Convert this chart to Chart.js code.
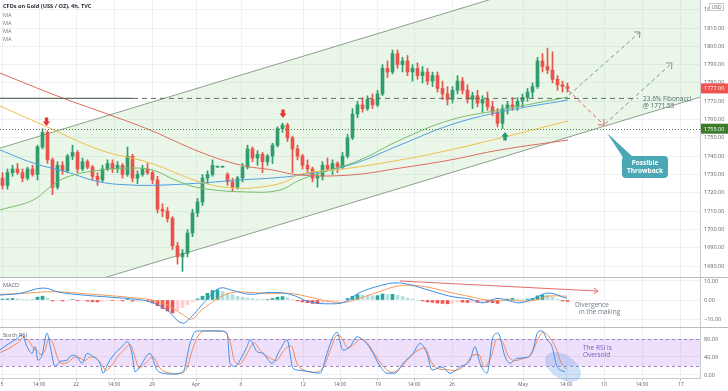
<!DOCTYPE html>
<html lang="en">
<head>
<meta charset="UTF-8" />
<title>CFDs on Gold (US$ / OZ), 4h</title>
<style>
  body { margin: 0; background: #fff; overflow: hidden; }
  canvas { display: block; }
</style>
</head>
<body>
<canvas id="main" width="728" height="277" style="width:728px;height:277px"></canvas>
<canvas id="macd" width="728" height="50" style="width:728px;height:50px"></canvas>
<canvas id="stoch" width="728" height="64" style="width:728px;height:64px"></canvas>

<script src="https://cdn.jsdelivr.net/npm/chart.js@4"></script>
<script>
// ---- candles (one bar = one slot on the time axis) ----
const opens = [1728,1724,1731,1733,1731,1728,1733,1730,1745,1753,
  1738,1723,1735,1732,1740,1742,1733,1737,1734,1729,
  1727,1733,1736,1733,1735,1730,1740,1728,1730,1733,
  1731,1727,1711,1710,1706,1691,1685,1687,1698,1709,
  1715,1728,1730,1734,1734,1730,1726,1723,1728,1734,
  1744,1739,1741,1737,1740,1746,1755,1757,1750,1744,
  1740,1735,1733,1728,1729,1735,1733,1736,1734,1740,
  1750,1763,1768,1766,1771,1768,1774,1788,1786,1796,
  1790,1792,1786,1788,1784,1786,1781,1784,1777,1774,
  1771,1776,1781,1776,1771,1773,1769,1771,1767,1764,
  1758,1766,1768,1767,1770,1772,1775,1778,1792,1789,
  1787,1782,1779,1778];
const highs = [1731,1733,1735,1736,1733,1734,1735,1746,1755,1754,
  1739,1737,1737,1741,1746,1743,1739,1738,1735,1731,
  1735,1738,1738,1737,1736,1745,1741,1732,1735,1736,
  1732,1729,1714,1712,1707,1693,1689,1700,1711,1717,
  1730,1732,1738,1734,1734,1731,1728,1729,1736,1746,
  1745,1743,1742,1741,1747,1756,1758,1758,1751,1746,
  1741,1738,1734,1731,1737,1739,1738,1737,1742,1752,
  1766,1770,1772,1773,1774,1776,1790,1792,1798,1798,
  1794,1795,1790,1791,1789,1788,1786,1786,1781,1778,
  1778,1784,1783,1779,1775,1776,1773,1775,1770,1766,
  1768,1770,1772,1772,1774,1777,1780,1794,1796,1799,
  1797,1784,1781,1780];
const lows = [1722,1722,1729,1730,1726,1727,1729,1727,1744,1736,
  1719,1722,1730,1731,1738,1731,1732,1733,1727,1724,
  1726,1732,1731,1731,1728,1729,1726,1725,1729,1730,
  1725,1709,1707,1704,1689,1681,1677,1685,1696,1707,
  1713,1725,1729,1734,1734,1724,1721,1722,1726,1733,
  1737,1735,1731,1735,1736,1745,1753,1748,1731,1738,
  1733,1731,1726,1723,1727,1732,1730,1731,1733,1739,
  1749,1761,1764,1765,1766,1767,1773,1783,1785,1788,
  1786,1784,1781,1782,1780,1779,1778,1775,1771,1768,
  1769,1774,1774,1769,1766,1767,1764,1765,1762,1756,
  1755,1763,1765,1765,1767,1770,1772,1777,1786,1785,
  1780,1776,1775,1775];
const closes = [1724,1731,1733,1731,1728,1733,1730,1745,1753,1738,
  1723,1735,1732,1740,1742,1733,1737,1734,1729,1727,
  1733,1736,1733,1735,1730,1740,1728,1730,1733,1731,
  1727,1711,1710,1706,1691,1685,1687,1698,1709,1715,
  1728,1730,1735,1734,1734,1726,1723,1728,1734,1744,
  1739,1741,1737,1740,1746,1755,1757,1750,1744,1740,
  1735,1733,1728,1729,1735,1733,1736,1734,1740,1750,
  1763,1768,1766,1771,1768,1774,1788,1786,1796,1790,
  1792,1786,1788,1784,1786,1781,1784,1777,1774,1771,
  1776,1781,1776,1771,1773,1769,1771,1767,1764,1758,
  1766,1768,1767,1770,1772,1775,1778,1792,1789,1787,
  1782,1779,1778,1777];

// ---- moving averages (sampled along the time axis) ----
const maRedX = [0,12,22,30,40,48,54.6,60,70,80,90,100,113.6];
const maRed = [1785.4,1772.3,1762.5,1754.3,1742.3,1735.2,1732.4,1729.7,1729.7,1733.5,1737.9,1743.4,1748.8];
const maYellowX = [0,8.6,20,30,40,46.6,52,57,60,70,80,90,100,113.6];
const maYellow = [1767.4,1757.0,1743.4,1736.3,1725.9,1722.6,1723.1,1725.9,1730.2,1733.5,1737.9,1743.4,1749.9,1759.2];
const maGreenX = [0,6.6,10,13.4,20,26.6,30.6,35,40,50,56,60,66,72,80,90,100,113.6];
const maGreen = [1710.6,1716.0,1723.1,1728.6,1732.4,1733.5,1732.4,1727.0,1722.6,1720.4,1721.5,1727.0,1732.4,1737.9,1748.8,1759.7,1765.2,1772.3];
const maBlueX = [0,6.6,13.4,20,26.6,32,40,48,54.6,60,70,80,90,100,113.6];
const maBlue = [1743.4,1736.3,1731.3,1725.9,1724.2,1724.2,1725.3,1727.0,1728.1,1729.7,1735.2,1746.1,1757.0,1764.1,1770.7];

// ---- parallel channel (drawing) ----
const channelX = [0, 140];
const channelUpper = [1744.4, 1860.3];
const channelLower = [1656.3, 1772.2];

// ---- MACD ----
const macdX = [0,4,8.6,12,16.6,22,26.6,30,33.4,36.4,38.4,40,42,44,46.6,50,54,58,62,66,69,72,76,79,82,86,90,94,96.6,99.4,102,104,107,109.6,113.4];
const macdLine = [2.6,3.5,6.3,4.0,2.6,1.5,0.5,-1.0,-5.3,-12.1,-8.5,-3.7,2.0,6.3,5.0,3.0,4.0,3.0,-1.0,-2.0,-1.0,4.0,7.5,9.0,8.0,5.0,2.0,0.5,-1.5,0.8,-0.5,-1.5,1.0,3.7,0.8];
const signalLine = [3.0,3.4,4.2,4.3,3.4,2.3,1.2,0.2,-2.5,-7.5,-10.0,-6.0,-2.0,1.5,4.0,4.0,3.3,3.5,1.5,-0.8,-1.2,1.0,4.5,7.0,7.8,6.5,4.0,1.8,0.3,-0.2,0.0,-0.5,-0.2,2.0,2.0];
const macdHist = [0.5,0.6,0.8,0.7,0.3,0.2,0.1,1.5,2.0,1.0,
  -0.5,-0.3,-0.5,-0.2,0.3,-0.4,-0.3,-0.6,-0.9,-1.0,
  -0.6,-0.2,-0.3,-0.1,-0.5,0.2,-0.6,-0.5,-0.3,-0.4,
  -1.5,-3.0,-4.5,-5.8,-6.8,-5.5,-4.0,-2.5,-1.0,0.5,
  2.0,3.5,5.0,5.3,4.5,3.5,2.8,2.0,1.5,1.0,
  0.8,0.5,0.2,0.3,0.8,1.5,1.8,1.2,0.3,-0.5,
  -1.0,-1.4,-1.8,-1.9,-1.5,-1.2,-0.9,-0.6,-0.2,0.8,
  2.0,2.8,2.6,2.5,2.2,2.3,3.2,2.9,3.0,2.4,
  1.8,1.0,0.5,0.0,-0.5,-1.0,-1.2,-1.6,-1.8,-2.0,
  -1.6,-1.0,-1.1,-1.3,-1.1,-1.2,-1.0,-1.1,-1.4,-1.8,
  -0.6,0.5,0.8,0.4,0.2,0.5,0.9,2.2,2.7,2.5,
  1.5,0.5,-0.5,-0.8];

// ---- Stoch RSI ----
const stochKX = [0,1.4,3.4,4.4,5.4,6.4,7,7.6,8.4,9.4,10,11,12,13.4,14.4,15.4,16.4,17.4,18.6,20,
  20.6,21.6,23,24.4,25.4,26.4,27,28,30,31.4,32.6,34.6,36.6,38,39,40,44,45.4,46,47,
  48,49.4,50,51.4,52.6,54.4,56,57.4,58.6,59.6,62,64,65.4,66.6,67.4,68.6,70,71.4,72.6,74,
  76,77.4,79,80.6,82.6,84,85.4,86.4,88.4,90,92,94,95,96,97.4,98.6,99.6,101,102,103.4,
  105.4,106.6,107.6,108.4,109.4,110.4,111.4,113];
const stochK = [56,67,81,89,63,48,63,33,44,93,67,19,30,33,44,41,26,48,41,26,
  4,26,48,63,74,48,7,19,48,11,4,2,7,70,96,98,98,93,26,19,
  33,63,78,52,48,26,56,78,15,11,7,4,48,85,95,55,63,85,78,60,
  20,4,4,26,48,70,48,11,18,4,18,33,63,26,4,85,93,41,26,37,
  39,56,96,98,78,63,19,7];
const stochDX = [0,1.6,3.6,4.8,5.8,6.8,7.4,8.2,9,9.8,10.6,11.6,12.6,13.8,15,16,17,18,19.2,20.6,
  21.2,22.4,23.6,25,26,27,27.8,29,30.6,32,33.4,35.4,37.2,38.6,39.8,41,44.6,46,46.8,47.8,
  48.8,50,50.8,52,53.4,55.2,56.8,58.2,59.4,61,63,64.8,66.2,67.4,68.2,69.6,70.8,72.2,73.4,75,
  77,78.4,80,81.6,83.6,85,86.2,87.6,89.2,91,93,94.8,95.8,96.8,98.2,99.4,100.4,101.8,103,104.6,
  106.2,107.4,108.6,109.8,111.2,112.2,113.4];
const stochD = [50,58,72,84,75,58,55,45,55,82,70,35,25,30,40,38,32,40,38,18,
  10,22,42,58,68,40,15,25,40,15,6,3,12,60,90,98,97,75,35,24,
  35,60,72,55,42,32,55,65,25,10,6,20,60,88,85,60,68,80,72,45,
  15,6,15,35,55,60,30,14,12,10,22,45,45,18,40,80,75,40,32,37,
  45,75,95,85,60,28,12];

// ---- axes ----
const timeTickPos = [0.4,7.8,15.2,22.8,30.4,39.2,48.2,60.6,68,75.6,82.8,90.4,104.6,113.2,120.8,128.4,136.2];
const timeTickLabels = ['5','14:00','22','14:00','29','Apr','6','12','14:00','19','14:00','26','May','14:00','10','14:00','17'];
const priceTicks = [1680,1690,1700,1710,1720,1730,1740,1750,1760,1770,1780,1790,1800,1810,1820];
const macdTicks = [10, 0, -10];
const stochTicks = [80, 40, 0];

const FONT = "'Open Sans', sans-serif";
const UP = '#2f9e6c', DOWN = '#e8534c';
const GRID = '#eef0f4', EDGE = '#c6c9d0', LABEL = '#5d606b';

const pts = (xs, ys) => xs.map((x, i) => ({ x, y: ys[i] }));
const fmt2 = v => v.toFixed(2).replace('-', '\u2212');

function xAxis(showLabels) {
  return {
    type: 'linear', min: 0, max: 140, offset: false,
    afterBuildTicks: s => { s.ticks = timeTickPos.map(v => ({ value: v })); },
    afterFit: s => { s.height = showLabels ? 13 : 0; s.paddingLeft = 0; s.paddingRight = 0; },
    ticks: { display: showLabels, autoSkip: false, maxRotation: 0, padding: 1, color: LABEL,
             font: { size: 5, family: FONT }, callback: (v, i) => timeTickLabels[i] },
    grid: { color: GRID, drawTicks: showLabels, tickLength: 3, offset: false, tickColor: EDGE },
    border: { display: showLabels, color: EDGE }
  };
}
function yAxis(min, max, ticks) {
  return {
    type: 'linear', position: 'right', min, max,
    afterBuildTicks: s => { s.ticks = ticks.map(v => ({ value: v })); },
    afterFit: s => { s.width = 28; s.paddingTop = 0; s.paddingBottom = 0; },
    ticks: { padding: 4, color: LABEL, font: { size: 5.5, family: FONT }, callback: v => fmt2(v) },
    grid: { color: GRID, drawTicks: false },
    border: { color: EDGE }
  };
}
const base = {
  responsive: false, animation: false, events: [], devicePixelRatio: 1,
  layout: { padding: 0 },
  plugins: { legend: { display: false }, tooltip: { enabled: false } }
};

function dashArrow(ctx, x1, y1, x2, y2, color) {
  ctx.strokeStyle = color; ctx.lineWidth = 1;
  ctx.setLineDash([4, 3]);
  ctx.beginPath(); ctx.moveTo(x1, y1); ctx.lineTo(x2, y2); ctx.stroke();
  ctx.setLineDash([]);
  const a = Math.atan2(y2 - y1, x2 - x1);
  ctx.beginPath();
  ctx.moveTo(x2 + 6 * Math.cos(a + Math.PI - 0.75), y2 + 6 * Math.sin(a + Math.PI - 0.75));
  ctx.lineTo(x2, y2);
  ctx.lineTo(x2 + 6 * Math.cos(a + Math.PI + 0.75), y2 + 6 * Math.sin(a + Math.PI + 0.75));
  ctx.stroke();
}
function blockArrow(ctx, cx, tip, dir, color) {
  // dir = 1 points down, -1 points up
  ctx.fillStyle = color;
  ctx.beginPath();
  ctx.moveTo(cx, tip);
  ctx.lineTo(cx + 3.6, tip - dir * 4.5);
  ctx.lineTo(cx + 1.7, tip - dir * 4.5);
  ctx.lineTo(cx + 1.7, tip - dir * 8.5);
  ctx.lineTo(cx - 1.7, tip - dir * 8.5);
  ctx.lineTo(cx - 1.7, tip - dir * 4.5);
  ctx.lineTo(cx - 3.6, tip - dir * 4.5);
  ctx.closePath(); ctx.fill();
}
function tag(ctx, y, text, bg) {
  ctx.fillStyle = bg;
  ctx.fillRect(701, y - 5, 27, 10);
  ctx.fillStyle = '#fff';
  ctx.font = `5.5px ${FONT}`;
  ctx.textAlign = 'left'; ctx.textBaseline = 'middle';
  ctx.fillText(text, 704, y + 0.5);
}

// ---- main price pane ----
const barPos = closes.map((c, i) => i + 0.5);
const candleColors = closes.map((c, i) => (c >= opens[i] ? UP : DOWN));

const mainPlugin = {
  id: 'mainPlugin',
  afterDatasetsDraw(chart) {
    const { ctx, scales: { x, y } } = chart;
    const X = v => x.getPixelForValue(v), Y = v => y.getPixelForValue(v);
    ctx.save();
    // 23.6% fib level
    ctx.strokeStyle = '#5f705f'; ctx.lineWidth = 1.3;
    ctx.beginPath(); ctx.moveTo(X(0), Y(1771.55)); ctx.lineTo(X(26.6), Y(1771.55)); ctx.stroke();
    ctx.lineWidth = 1; ctx.setLineDash([5, 4]);
    ctx.beginPath(); ctx.moveTo(X(26.6), Y(1771.55)); ctx.lineTo(X(127.6), Y(1771.55)); ctx.stroke();
    // 1755 support
    ctx.strokeStyle = '#4c7a44'; ctx.setLineDash([1, 2]);
    ctx.beginPath(); ctx.moveTo(X(0), Math.round(Y(1755)) + 0.5); ctx.lineTo(X(140), Math.round(Y(1755)) + 0.5); ctx.stroke();
    ctx.setLineDash([]);
    // markers
    blockArrow(ctx, X(9.3), Y(1756.5), 1, '#e53935');
    blockArrow(ctx, X(56.6), Y(1760.8), 1, '#e53935');
    blockArrow(ctx, X(101), Y(1753.2), -1, '#1f9a7d');
    // projections
    dashArrow(ctx, X(113.6), Y(1776.1), X(120.8), Y(1757.0), '#e86060');
    dashArrow(ctx, X(113.8), Y(1773.4), X(128), Y(1807.8), '#7f9a86');
    dashArrow(ctx, X(121), Y(1757.6), X(134.4), Y(1790.9), '#7f9a86');
    // fib text
    ctx.fillStyle = '#4e6b6b'; ctx.font = `6.5px ${FONT}`;
    ctx.textAlign = 'left'; ctx.textBaseline = 'middle';
    ctx.fillText('23.6% Fibonacci', X(128.6), Y(1771.2));
    ctx.fillText('@ 1771.55', X(128.6), Y(1767.4));
    // callout
    const bx = X(124.4), by = Y(1740.1), bw = 46, bh = 22;
    ctx.fillStyle = '#4aa7b6';
    ctx.beginPath();
    ctx.moveTo(bx + 2, by + 3); ctx.lineTo(X(121.4), Y(1752.6)); ctx.lineTo(bx + 11, by + 1); ctx.closePath(); ctx.fill();
    ctx.beginPath(); ctx.roundRect(bx, by, bw, bh, 4); ctx.fill();
    ctx.fillStyle = '#fff'; ctx.font = `bold 6.5px ${FONT}`; ctx.textAlign = 'center';
    ctx.fillText('Possible', bx + bw / 2, by + 7);
    ctx.fillText('Throwback', bx + bw / 2, by + 15);
    ctx.restore();
  },
  afterDraw(chart) {
    const { ctx, scales: { y } } = chart;
    ctx.save();
    tag(ctx, y.getPixelForValue(1777), '1777.00', '#ef5350');
    tag(ctx, y.getPixelForValue(1755), '1755.00', '#3d7a2a');
    // currency box
    ctx.fillStyle = '#fff'; ctx.strokeStyle = '#c6c9d0'; ctx.lineWidth = 1;
    ctx.fillRect(709, 3, 15, 8); ctx.strokeRect(709.5, 3.5, 14, 7);
    ctx.fillStyle = LABEL; ctx.font = `5px ${FONT}`; ctx.textAlign = 'center'; ctx.textBaseline = 'middle';
    ctx.fillText('USD', 716.5, 7.3);
    // legend text
    ctx.textAlign = 'left';
    ctx.fillStyle = '#2a2e39'; ctx.font = `bold 5.6px ${FONT}`;
    ctx.fillText('CFDs on Gold (US$ / OZ), 4h, TVC', 3, 6);
    ctx.fillStyle = '#7a7d86'; ctx.font = `5.6px ${FONT}`;
    ['MA', 'MA', 'MA', 'MA'].forEach((t, i) => ctx.fillText(t, 3, 15 + i * 8));
    ctx.restore();
  }
};

new Chart(document.getElementById('main'), {
  type: 'bar',
  data: {
    datasets: [
      { type: 'line', data: pts(channelX, channelUpper), borderColor: '#8e9f8c', borderWidth: 1,
        pointRadius: 0, fill: false, order: 10 },
      { type: 'line', data: pts(channelX, channelLower), borderColor: '#8e9f8c', borderWidth: 1,
        pointRadius: 0, fill: '-1', backgroundColor: 'rgba(150, 215, 140, 0.2)', order: 10 },
      { type: 'bar', data: barPos.map((x, i) => ({ x, y: [lows[i], highs[i]] })),
        backgroundColor: candleColors, barThickness: 1, grouped: false, order: 3 },
      { type: 'bar', data: barPos.map((x, i) => ({ x, y: [opens[i], closes[i]] })),
        backgroundColor: candleColors, barThickness: 3, minBarLength: 1, grouped: false, order: 2 },
      { type: 'line', data: pts(maRedX, maRed), borderColor: '#df6a5e', borderWidth: 1, pointRadius: 0, tension: 0.4, order: 0 },
      { type: 'line', data: pts(maYellowX, maYellow), borderColor: '#eec04c', borderWidth: 1, pointRadius: 0, tension: 0.4, order: 0 },
      { type: 'line', data: pts(maGreenX, maGreen), borderColor: '#78bb6c', borderWidth: 1, pointRadius: 0, tension: 0.4, order: 0 },
      { type: 'line', data: pts(maBlueX, maBlue), borderColor: '#4d9de0', borderWidth: 1, pointRadius: 0, tension: 0.4, order: 0 }
    ]
  },
  options: { ...base, scales: { x: xAxis(false), y: yAxis(1674.0, 1825.3, priceTicks) } },
  plugins: [mainPlugin]
});

// ---- MACD pane ----
const histColors = macdHist.map((v, i) => {
  const prev = i > 0 ? macdHist[i - 1] : v;
  if (v >= 0) return v >= prev ? '#26a69a' : '#b2dfdb';
  return v <= prev ? '#ef5350' : '#ffcdd2';
});
const paneTop = {
  id: 'paneTop',
  afterDraw(chart) {
    const ctx = chart.ctx;
    ctx.save();
    ctx.strokeStyle = '#b8bbc3'; ctx.lineWidth = 1;
    ctx.beginPath(); ctx.moveTo(0, 0.5); ctx.lineTo(728, 0.5); ctx.stroke();
    ctx.restore();
  }
};
const macdPlugin = {
  id: 'macdPlugin',
  afterDatasetsDraw(chart) {
    const { ctx, scales: { x, y } } = chart;
    const X = v => x.getPixelForValue(v), Y = v => y.getPixelForValue(v);
    ctx.save();
    ctx.strokeStyle = '#e46b6b'; ctx.lineWidth = 1;
    ctx.beginPath(); ctx.moveTo(X(80), Y(10)); ctx.lineTo(X(119.6), Y(4.7)); ctx.stroke();
    const a = Math.atan2(Y(4.7) - Y(10), X(119.6) - X(80));
    ctx.beginPath();
    ctx.moveTo(X(119.6) + 5 * Math.cos(a + Math.PI - 0.6), Y(4.7) + 5 * Math.sin(a + Math.PI - 0.6));
    ctx.lineTo(X(119.6), Y(4.7));
    ctx.lineTo(X(119.6) + 5 * Math.cos(a + Math.PI + 0.6), Y(4.7) + 5 * Math.sin(a + Math.PI + 0.6));
    ctx.stroke();
    ctx.fillStyle = '#697c8e'; ctx.font = `6.5px ${FONT}`;
    ctx.textAlign = 'left'; ctx.textBaseline = 'middle';
    ctx.fillText('Divergence', X(115), Y(-2.6));
    ctx.fillText('in the making', X(115.8), Y(-6.3));
    ctx.fillStyle = '#5d606b'; ctx.font = `5.6px ${FONT}`;
    ctx.fillText('MACD', 3, 8);
    ctx.restore();
  }
};
new Chart(document.getElementById('macd'), {
  type: 'bar',
  data: {
    datasets: [
      { type: 'line', data: pts(macdX, macdLine), borderColor: '#3d8fe6', borderWidth: 1, pointRadius: 0, tension: 0.4, order: 0 },
      { type: 'line', data: pts(macdX, signalLine), borderColor: '#f59b5a', borderWidth: 1, pointRadius: 0, tension: 0.4, order: 1 },
      { type: 'bar', data: barPos.map((x, i) => ({ x, y: macdHist[i] })), backgroundColor: histColors,
        barThickness: 3, grouped: false, base: 0, order: 2 }
    ]
  },
  options: { ...base, scales: { x: xAxis(false), y: yAxis(-14.2, 12.1, macdTicks) } },
  plugins: [paneTop, macdPlugin]
});

// ---- Stoch RSI pane ----
const stochPlugin = {
  id: 'stochPlugin',
  beforeDatasetsDraw(chart) {
    const { ctx, chartArea, scales: { y } } = chart;
    ctx.save();
    ctx.fillStyle = 'rgba(186, 120, 236, 0.24)';
    ctx.fillRect(chartArea.left, y.getPixelForValue(80), chartArea.width, y.getPixelForValue(20) - y.getPixelForValue(80));
    ctx.strokeStyle = '#9a86bc'; ctx.lineWidth = 1; ctx.setLineDash([3, 3]);
    [80, 20].forEach(v => {
      const py = Math.round(y.getPixelForValue(v)) + 0.5;
      ctx.beginPath(); ctx.moveTo(chartArea.left, py); ctx.lineTo(chartArea.right, py); ctx.stroke();
    });
    ctx.restore();
  },
  afterDatasetsDraw(chart) {
    const { ctx, scales: { x, y } } = chart;
    const X = v => x.getPixelForValue(v), Y = v => y.getPixelForValue(v);
    ctx.save();
    ctx.fillStyle = 'rgba(110, 165, 235, 0.33)';
    ctx.beginPath(); ctx.ellipse(X(112.6), Y(18), 20, 12, 0.6, 0, Math.PI * 2); ctx.fill();
    ctx.fillStyle = '#7a58c6'; ctx.font = `6.5px ${FONT}`;
    ctx.textAlign = 'left'; ctx.textBaseline = 'middle';
    ctx.fillText('The RSI is', X(116.6), Y(60));
    ctx.fillText('Oversold', X(116.6), Y(44));
    ctx.fillStyle = '#5d606b'; ctx.font = `5.6px ${FONT}`;
    ctx.fillText('Stoch RSI', 3, 8);
    ctx.restore();
  }
};
new Chart(document.getElementById('stoch'), {
  type: 'line',
  data: {
    datasets: [
      { data: pts(stochKX, stochK), borderColor: '#3d8fe6', borderWidth: 1, pointRadius: 0, cubicInterpolationMode: 'monotone' },
      { data: pts(stochDX, stochD), borderColor: '#f08a5a', borderWidth: 1, pointRadius: 0, cubicInterpolationMode: 'monotone' }
    ]
  },
  options: { ...base, scales: { x: xAxis(true), y: yAxis(-6.7, 106.7, stochTicks) } },
  plugins: [paneTop, stochPlugin]
});
</script>
</body>
</html>
